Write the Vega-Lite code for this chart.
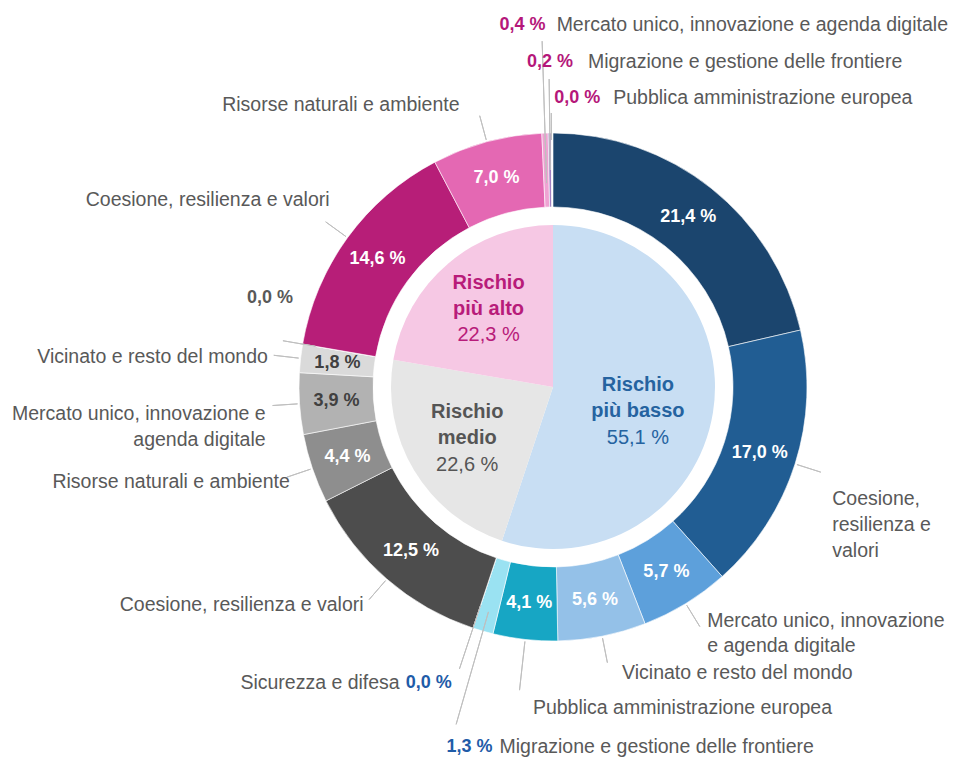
{
  "$schema": "https://vega.github.io/schema/vega-lite/v6.json",
  "width": 808,
  "height": 742,
  "autosize": {"type": "none"},
  "padding": {"left": 149, "top": 16, "right": 0, "bottom": 0},
  "background": "white",
  "config": {"view": {"stroke": null}, "font": "Liberation Sans", "text": {"font": "Liberation Sans"}},
  "datasets": {
    "inner": [
      {"ord": 1, "cat": "low", "title": "Rischio\npiù basso", "lbl": "55,1 %", "value": 55.1},
      {"ord": 2, "cat": "mid", "title": "Rischio\nmedio", "lbl": "22,6 %", "value": 22.6},
      {"ord": 3, "cat": "high", "title": "Rischio\npiù alto", "lbl": "22,3 %", "value": 22.3}
    ],
    "outer": [
      {"ord": 1, "key": "b1", "value": 21.4, "lbl": "21,4 %", "name": ""},
      {"ord": 2, "key": "b2", "value": 17.0, "lbl": "17,0 %", "name": "Coesione,\nresilienza e\nvalori"},
      {"ord": 3, "key": "b3", "value": 5.7, "lbl": "5,7 %", "name": "Mercato unico, innovazione\ne agenda digitale"},
      {"ord": 4, "key": "b4", "value": 5.6, "lbl": "5,6 %", "name": "Vicinato e resto del mondo"},
      {"ord": 5, "key": "b5", "value": 4.1, "lbl": "4,1 %", "name": "Pubblica amministrazione europea"},
      {"ord": 6, "key": "b6", "value": 1.3, "lbl": "1,3 %", "name": "Migrazione e gestione delle frontiere"},
      {"ord": 7, "key": "b7", "value": 0.0, "lbl": "0,0 %", "name": "Sicurezza e difesa"},
      {"ord": 8, "key": "g1", "value": 12.5, "lbl": "12,5 %", "name": "Coesione, resilienza e valori"},
      {"ord": 9, "key": "g2", "value": 4.4, "lbl": "4,4 %", "name": "Risorse naturali e ambiente"},
      {"ord": 10, "key": "g3", "value": 3.9, "lbl": "3,9 %", "name": "Mercato unico, innovazione e\nagenda digitale"},
      {"ord": 11, "key": "g4", "value": 1.8, "lbl": "1,8 %", "name": "Vicinato e resto del mondo"},
      {"ord": 12, "key": "g5", "value": 0.0, "lbl": "0,0 %", "name": ""},
      {"ord": 13, "key": "p1", "value": 14.6, "lbl": "14,6 %", "name": "Coesione, resilienza e valori"},
      {"ord": 14, "key": "p2", "value": 7.0, "lbl": "7,0 %", "name": "Risorse naturali e ambiente"},
      {"ord": 15, "key": "p3", "value": 0.4, "lbl": "0,4 %", "name": "Mercato unico, innovazione e agenda digitale"},
      {"ord": 16, "key": "p4", "value": 0.2, "lbl": "0,2 %", "name": "Migrazione e gestione delle frontiere"},
      {"ord": 17, "key": "p5", "value": 0.0, "lbl": "0,0 %", "name": "Pubblica amministrazione europea"}
    ]
  },
  "resolve": {"scale": {"color": "independent"}},
  "layer": [
    {
      "data": {"name": "inner"},
      "encoding": {
        "theta": {"field": "value", "type": "quantitative", "stack": true, "scale": {"domain": [0, 100]}},
        "order": {"field": "ord", "type": "quantitative"}
      },
      "layer": [
        {
          "mark": {"type": "arc", "outerRadius": 162},
          "encoding": {"color": {"field": "cat", "type": "nominal", "scale": {"domain": ["low", "mid", "high"], "range": ["#C8DEF3", "#E6E6E6", "#F6C8E4"]}, "legend": null}}
        },
        {
          "mark": {"type": "text", "radius": 86, "dy": -16, "fontSize": 20, "fontWeight": "bold", "lineHeight": 26.5, "lineBreak": "\n", "baseline": "middle", "align": "center", "color": "#2563A0"},
          "encoding": {"text": {"field": "title", "condition": {"test": "datum.cat != 'low'", "value": ""}}}
        },
        {
          "mark": {"type": "text", "radius": 86, "dy": 37, "fontSize": 20, "baseline": "middle", "align": "center", "color": "#2563A0"},
          "encoding": {"text": {"field": "lbl", "condition": {"test": "datum.cat != 'low'", "value": ""}}}
        },
        {
          "mark": {"type": "text", "radius": 100, "dy": -26.5, "fontSize": 20, "fontWeight": "bold", "lineHeight": 26.5, "lineBreak": "\n", "baseline": "middle", "align": "center"},
          "encoding": {
            "text": {"field": "title", "condition": {"test": "datum.cat != 'mid'", "value": ""}},
            "color": {"value": "#555555"}
          }
        },
        {
          "mark": {"type": "text", "radius": 100, "dy": 26.5, "fontSize": 20, "baseline": "middle", "align": "center"},
          "encoding": {
            "text": {"field": "lbl", "condition": {"test": "datum.cat != 'mid'", "value": ""}},
            "color": {"value": "#555555"}
          }
        },
        {
          "mark": {"type": "text", "radius": 100, "dy": -27.5, "fontSize": 20, "fontWeight": "bold", "lineHeight": 26, "lineBreak": "\n", "baseline": "middle", "align": "center"},
          "encoding": {
            "text": {"field": "title", "condition": {"test": "datum.cat != 'high'", "value": ""}},
            "color": {"value": "#B81C7A"}
          }
        },
        {
          "mark": {"type": "text", "radius": 100, "dy": 24, "fontSize": 20, "baseline": "middle", "align": "center"},
          "encoding": {
            "text": {"field": "lbl", "condition": {"test": "datum.cat != 'high'", "value": ""}},
            "color": {"value": "#B81C7A"}
          }
        }
      ]
    },
    {
      "data": {"name": "outer"},
      "encoding": {
        "theta": {"field": "value", "type": "quantitative", "stack": true, "scale": {"domain": [0, 100]}},
        "order": {"field": "ord", "type": "quantitative"}
      },
      "layer": [
        {
          "mark": {"type": "arc", "outerRadius": 254, "innerRadius": 180, "stroke": "white", "strokeWidth": 0.6},
          "encoding": {"color": {"field": "key", "type": "nominal", "scale": {"domain": ["b1","b2","b3","b4","b5","b6","b7","g1","g2","g3","g4","g5","p1","p2","p3","p4","p5"], "range": ["#1B456E","#215D93","#5DA0DB","#94C1E8","#17A6C4","#9AE2F2","#7FB7E0","#4D4D4D","#8E8E8E","#B2B2B2","#DADADA","#EEEEEE","#B71E78","#E468B3","#EFA3D3","#A27FC2","#8E6BB0"]}, "legend": null}}
        },
        {
          "mark": {"type": "arc", "outerRadius": 281, "innerRadius": 256, "padAngle": 3.1416, "fill": "white", "fillOpacity": 0, "stroke": "#BFBFBF", "strokeWidth": 1},
          "encoding": {"strokeOpacity": {"condition": {"test": "indexof([2,3,4,8,9,10,11,13,14], datum.ord) >= 0", "value": 1}, "value": 0}}
        },
        {
          "mark": {"type": "arc", "outerRadius": 305, "innerRadius": 256, "padAngle": 3.1416, "fill": "white", "fillOpacity": 0, "stroke": "#BFBFBF", "strokeWidth": 1},
          "encoding": {"strokeOpacity": {"condition": {"test": "datum.ord == 5", "value": 1}, "value": 0}}
        },
        {
          "mark": {"type": "arc", "outerRadius": 351, "innerRadius": 234, "padAngle": 3.1416, "fill": "white", "fillOpacity": 0, "stroke": "#BFBFBF", "strokeWidth": 1},
          "encoding": {"strokeOpacity": {"condition": {"test": "datum.ord == 6", "value": 1}, "value": 0}}
        },
        {
          "mark": {"type": "arc", "outerRadius": 297, "innerRadius": 230, "padAngle": 3.1416, "fill": "white", "fillOpacity": 0, "stroke": "#BFBFBF", "strokeWidth": 1},
          "encoding": {"strokeOpacity": {"condition": {"test": "datum.ord == 7", "value": 1}, "value": 0}}
        },
        {
          "mark": {"type": "arc", "outerRadius": 274, "innerRadius": 241, "padAngle": 3.1416, "fill": "white", "fillOpacity": 0, "stroke": "#BFBFBF", "strokeWidth": 1},
          "encoding": {"strokeOpacity": {"condition": {"test": "datum.ord == 12", "value": 1}, "value": 0}}
        },
        {
          "mark": {"type": "arc", "outerRadius": 346, "innerRadius": 204, "padAngle": 3.1416, "fill": "white", "fillOpacity": 0, "stroke": "#BFBFBF", "strokeWidth": 1},
          "encoding": {"strokeOpacity": {"condition": {"test": "datum.ord == 15", "value": 1}, "value": 0}}
        },
        {
          "mark": {"type": "arc", "outerRadius": 308, "innerRadius": 217, "padAngle": 3.1416, "fill": "white", "fillOpacity": 0, "stroke": "#BFBFBF", "strokeWidth": 1},
          "encoding": {"strokeOpacity": {"condition": {"test": "datum.ord == 16", "value": 1}, "value": 0}}
        },
        {
          "mark": {"type": "arc", "outerRadius": 274, "innerRadius": 247, "padAngle": 3.1416, "fill": "white", "fillOpacity": 0, "stroke": "#BFBFBF", "strokeWidth": 1},
          "encoding": {"strokeOpacity": {"condition": {"test": "datum.ord == 17", "value": 1}, "value": 0}}
        },
        {
          "mark": {"type": "text", "radius": 217, "fontSize": 18, "fontWeight": "bold", "baseline": "middle", "align": "center"},
          "encoding": {
            "text": {"field": "lbl", "condition": {"test": "datum.value < 1.8", "value": ""}},
            "color": {"condition": {"test": "datum.ord == 10 || datum.ord == 11", "value": "#404040"}, "value": "white"}
          }
        },
        {
          "mark": {"type": "text", "radius": 375, "dx": -3, "fontSize": 18, "fontWeight": "bold", "baseline": "middle", "align": "left", "color": "#1F5CA8"},
          "encoding": {"text": {"field": "lbl", "condition": {"test": "datum.ord != 6", "value": ""}}}
        },
        {
          "mark": {"type": "text", "radius": 312, "dx": -3, "fontSize": 18, "fontWeight": "bold", "baseline": "middle", "align": "right", "color": "#1F5CA8"},
          "encoding": {"text": {"field": "lbl", "condition": {"test": "datum.ord != 7", "value": ""}}}
        },
        {
          "mark": {"type": "text", "radius": 275, "dx": 11, "dy": -43, "fontSize": 18, "fontWeight": "bold", "baseline": "middle", "align": "right", "color": "#595959"},
          "encoding": {"text": {"field": "lbl", "condition": {"test": "datum.ord != 12", "value": ""}}}
        },
        {
          "mark": {"type": "text", "radius": 362, "dx": 4, "fontSize": 18, "fontWeight": "bold", "baseline": "middle", "align": "right", "color": "#B5177A"},
          "encoding": {"text": {"field": "lbl", "condition": {"test": "datum.ord != 15", "value": ""}}}
        },
        {
          "mark": {"type": "text", "radius": 325, "dx": 24, "fontSize": 18, "fontWeight": "bold", "baseline": "middle", "align": "right", "color": "#B5177A"},
          "encoding": {"text": {"field": "lbl", "condition": {"test": "datum.ord != 16", "value": ""}}}
        },
        {
          "mark": {"type": "text", "radius": 289, "dx": 49, "fontSize": 18, "fontWeight": "bold", "baseline": "middle", "align": "right", "color": "#B5177A"},
          "encoding": {"text": {"field": "lbl", "condition": {"test": "datum.ord != 17", "value": ""}}}
        },
        {
          "mark": {"type": "text", "radius": 293, "dy": 23, "fontSize": 19.5, "lineHeight": 26, "lineBreak": "\n", "baseline": "middle", "align": "left", "color": "#595959"},
          "encoding": {"text": {"field": "name", "condition": {"test": "datum.ord != 2", "value": ""}}}
        },
        {
          "mark": {"type": "text", "radius": 295, "dy": -18, "fontSize": 19.5, "lineHeight": 25, "lineBreak": "\n", "baseline": "middle", "align": "left", "color": "#595959"},
          "encoding": {"text": {"field": "name", "condition": {"test": "datum.ord != 3", "value": ""}}}
        },
        {
          "mark": {"type": "text", "radius": 295, "dx": 12, "dy": -3, "fontSize": 19.5, "baseline": "middle", "align": "left", "color": "#595959"},
          "encoding": {"text": {"field": "name", "condition": {"test": "datum.ord != 4", "value": ""}}}
        },
        {
          "mark": {"type": "text", "radius": 320, "dx": 15, "dy": 3, "fontSize": 19.5, "baseline": "middle", "align": "left", "color": "#595959"},
          "encoding": {"text": {"field": "name", "condition": {"test": "datum.ord != 5", "value": ""}}}
        },
        {
          "mark": {"type": "text", "radius": 375, "dx": 50, "fontSize": 19.5, "baseline": "middle", "align": "left", "color": "#595959"},
          "encoding": {"text": {"field": "name", "condition": {"test": "datum.ord != 6", "value": ""}}}
        },
        {
          "mark": {"type": "text", "radius": 312, "dx": -55, "fontSize": 19.5, "baseline": "middle", "align": "right", "color": "#595959"},
          "encoding": {"text": {"field": "name", "condition": {"test": "datum.ord != 7", "value": ""}}}
        },
        {
          "mark": {"type": "text", "radius": 288, "dx": -1, "fontSize": 19.5, "baseline": "middle", "align": "right", "color": "#595959"},
          "encoding": {"text": {"field": "name", "condition": {"test": "datum.ord != 8", "value": ""}}}
        },
        {
          "mark": {"type": "text", "radius": 280, "dx": 2, "dy": 5, "fontSize": 19.5, "baseline": "middle", "align": "right", "color": "#595959"},
          "encoding": {"text": {"field": "name", "condition": {"test": "datum.ord != 9", "value": ""}}}
        },
        {
          "mark": {"type": "text", "radius": 288, "dy": 8, "fontSize": 19.5, "lineHeight": 26, "lineBreak": "\n", "baseline": "middle", "align": "right", "color": "#595959"},
          "encoding": {"text": {"field": "name", "condition": {"test": "datum.ord != 10", "value": ""}}}
        },
        {
          "mark": {"type": "text", "radius": 287, "dy": 2, "fontSize": 19.5, "baseline": "middle", "align": "right", "color": "#595959"},
          "encoding": {"text": {"field": "name", "condition": {"test": "datum.ord != 11", "value": ""}}}
        },
        {
          "mark": {"type": "text", "radius": 291, "dx": 12, "dy": -16, "fontSize": 19.5, "baseline": "middle", "align": "right", "color": "#595959"},
          "encoding": {"text": {"field": "name", "condition": {"test": "datum.ord != 13", "value": ""}}}
        },
        {
          "mark": {"type": "text", "radius": 297, "dx": -16, "dy": 5, "fontSize": 19.5, "baseline": "middle", "align": "right", "color": "#595959"},
          "encoding": {"text": {"field": "name", "condition": {"test": "datum.ord != 14", "value": ""}}}
        },
        {
          "mark": {"type": "text", "radius": 362, "dx": 15, "fontSize": 19.5, "baseline": "middle", "align": "left", "color": "#595959"},
          "encoding": {"text": {"field": "name", "condition": {"test": "datum.ord != 15", "value": ""}}}
        },
        {
          "mark": {"type": "text", "radius": 325, "dx": 39, "fontSize": 19.5, "baseline": "middle", "align": "left", "color": "#595959"},
          "encoding": {"text": {"field": "name", "condition": {"test": "datum.ord != 16", "value": ""}}}
        },
        {
          "mark": {"type": "text", "radius": 289, "dx": 62, "fontSize": 19.5, "baseline": "middle", "align": "left", "color": "#595959"},
          "encoding": {"text": {"field": "name", "condition": {"test": "datum.ord != 17", "value": ""}}}
        }
      ]
    }
  ]
}
